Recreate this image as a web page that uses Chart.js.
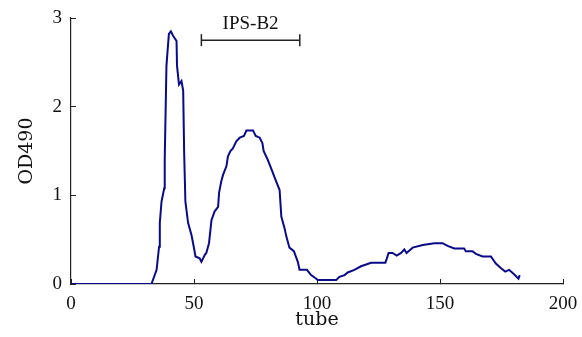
<!DOCTYPE html>
<html>
<head>
<meta charset="utf-8">
<script src="https://cdn.jsdelivr.net/npm/chart.js@4"></script>
<style>
  html, body { margin: 0; padding: 0; background: #fff; }
  #wrap { width: 582px; height: 337px; position: relative; }
</style>
</head>
<body>
<div id="wrap"><canvas id="odChart"></canvas></div>
<script>
// elution profile
const tube = [0, 32.7, 34.8, 35.8, 36.1, 36.8, 37.9, 38.1, 38.8, 39.2, 39.8, 40.6, 41.5, 42.9, 43.1, 43.9, 44.9, 45.6, 46.0, 46.5,
    47.6, 49.0, 49.9, 50.6, 52.3, 53.0, 54.4, 55.0, 56.1, 57.1, 58.4, 59.8, 60.2, 61.1, 61.8, 63.2, 63.8, 64.8, 65.8, 67.2,
    68.6, 70.3, 71.3, 74.0, 75.1, 76.7, 77.8, 78.3, 80.0, 81.4, 82.8, 84.8, 85.5, 86.8, 87.5, 88.8, 90.6, 92.2, 92.9, 95.9,
    97.6, 99.7, 100.3, 107.8, 109.1, 111.2, 112.5, 115.2, 117.9, 122.0, 127.8, 128.3, 129.1, 130.7, 132.4, 134.2, 135.5, 136.4, 138.9, 143.0,
    147.7, 151.0, 153.1, 155.8, 159.8, 160.5, 163.2, 164.6, 167.3, 170.7, 172.7, 174.7, 176.5, 178.1, 180.1, 181.9, 182.4];
const od490 = [0, 0, 0.16, 0.42, 0.69, 0.93, 1.08, 1.40, 2.46, 2.61, 2.82, 2.85, 2.80, 2.74, 2.46, 2.25, 2.29, 2.18, 1.48, 0.93,
    0.69, 0.55, 0.42, 0.31, 0.29, 0.25, 0.33, 0.35, 0.46, 0.72, 0.82, 0.87, 1.03, 1.16, 1.23, 1.33, 1.44, 1.50, 1.53, 1.61,
    1.65, 1.67, 1.73, 1.73, 1.67, 1.65, 1.59, 1.50, 1.40, 1.30, 1.20, 1.06, 0.76, 0.63, 0.54, 0.41, 0.37, 0.25, 0.16, 0.16,
    0.10, 0.06, 0.045, 0.045, 0.08, 0.10, 0.13, 0.16, 0.20, 0.24, 0.24, 0.28, 0.35, 0.35, 0.32, 0.35, 0.39, 0.35, 0.41, 0.44,
    0.46, 0.46, 0.43, 0.40, 0.40, 0.37, 0.37, 0.34, 0.31, 0.31, 0.23, 0.18, 0.14, 0.16, 0.11, 0.06, 0.10];

// pooled fraction marker
const poolLabel = 'IPS-B2';
const poolTubes = [53, 93];
const poolLevel = 2.75;

const xTicks = [0, 50, 100, 150, 200];
const yTicks = [0, 1, 2, 3];

const tickFont = { family: 'Liberation Serif', size: 19 };
const titleFont = { family: 'DejaVu Serif', size: 19 };

// text above the bracket, placed through the scales
const poolText = {
    id: 'poolText',
    afterDatasetsDraw(chart) {
        const { ctx, scales } = chart;
        const cx = scales.x.getPixelForValue((poolTubes[0] + poolTubes[1]) / 2);
        const cy = scales.y.getPixelForValue(poolLevel);
        ctx.save();
        ctx.fillStyle = '#111';
        ctx.font = '19px "Liberation Serif"';
        ctx.textAlign = 'center';
        ctx.textBaseline = 'alphabetic';
        ctx.fillText(poolLabel, cx, cy - 11);
        ctx.restore();
    }
};

new Chart(document.getElementById('odChart').getContext('2d'), {
    type: 'line',
    data: {
        datasets: [
            {
                data: tube.map((t, i) => ({ x: t, y: od490[i] })),
                borderColor: '#0a0a86',
                borderWidth: 2,
                pointRadius: 0,
                tension: 0,
                fill: false
            },
            {
                data: poolTubes.map(t => ({ x: t, y: poolLevel })),
                borderColor: '#222',
                borderWidth: 1.5,
                pointStyle: 'line',
                rotation: 90,
                pointRadius: 6,
                pointBorderColor: '#222',
                pointBorderWidth: 1.5,
                tension: 0
            }
        ]
    },
    options: {
        responsive: true,
        maintainAspectRatio: false,
        animation: false,
        layout: { padding: { top: 18, right: 19, left: 0, bottom: 0 } },
        plugins: { legend: { display: false }, tooltip: { enabled: false } },
        scales: {
            x: {
                type: 'linear',
                min: 0,
                max: 200,
                afterBuildTicks: s => { s.ticks = xTicks.map(v => ({ value: v })); },
                afterFit: s => { s.height = 53; s.paddingLeft = 0; s.paddingRight = 0; },
                grid: { drawOnChartArea: false, tickLength: -5, color: '#222' },
                border: { color: '#222', width: 1.2 },
                ticks: { padding: 14, color: '#111', font: tickFont, maxRotation: 0 },
                title: { display: true, text: 'tube', color: '#111', font: titleFont, padding: { top: 0, bottom: 6 } }
            },
            y: {
                min: 0,
                max: 3,
                afterBuildTicks: s => { s.ticks = yTicks.map(v => ({ value: v })); },
                afterFit: s => { s.width = 71; s.paddingTop = 0; s.paddingBottom = 0; },
                grid: { drawOnChartArea: false, tickLength: -5, color: '#222' },
                border: { color: '#222', width: 1.2 },
                ticks: { padding: 14, color: '#111', font: tickFont },
                title: { display: true, text: 'OD490', color: '#111', font: titleFont, padding: { top: 16, bottom: 0 } }
            }
        }
    },
    plugins: [poolText]
});
</script>
</body>
</html>
